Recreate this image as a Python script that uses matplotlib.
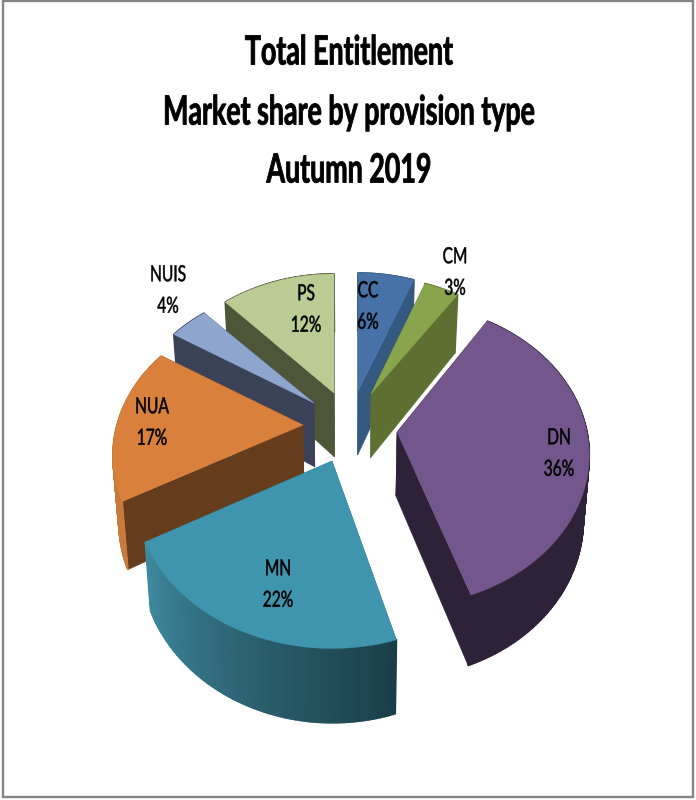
import numpy as np
import matplotlib
matplotlib.use('Agg')
import matplotlib.pyplot as plt
from matplotlib.colors import to_rgb
from matplotlib.patches import Rectangle
from matplotlib.patheffects import AbstractPathEffect
from matplotlib.transforms import Affine2D

# chart values
categories = ['CC', 'CM', 'DN', 'MN', 'NUA', 'NUIS', 'PS']
shares = [6, 3, 36, 22, 17, 4, 12]
title_lines = ['Total Entitlement', 'Market share by provision type', 'Autumn 2019']

# look of each slice
top_colors = ['#4672a8', '#88a44c', '#72568c', '#4095ae', '#d9813c', '#8ea5ce', '#bacb93']
cut_colors = ['#34587f', '#5d7032', '#2d2238', '#2a6172', '#653d1c', '#3b4257', '#4e563a']
# outer wall colour at the start and end angle of the slice
wall_colors = [('#34587f', '#34587f'), ('#5d7032', '#5d7032'), ('#2d2238', '#2d2238'),
               ('#1a3e48', '#3f8a9f'), ('#c87a3d', '#c87a3d'), ('#3b4257', '#3b4257'),
               ('#4e563a', '#4e563a')]

# where the tip of each exploded slice lands, in pixels
tips = [(358, 391), (371, 394), (397, 432), (332, 461), (303, 425), (314, 403), (334, 393)]
label_xy = [(368, 307), (455, 273), (559, 454), (278, 585), (152, 423), (168, 291), (306, 310)]

# per slice fit of the fake 3D: radius, tilt, perspective, nudges of the edges in degrees
radii = [180, 178, 190, 192, 186, 184, 182]
tilts = [0.785, 0.785, 0.78, 0.77, 0.77, 0.77, 0.785]
persps = [0.0011, 0.0011, 0.0008, 0.0011, 0.0011, 0.0011, 0.0011]
edge_nudge = [(0, 0), (-0.6, 2), (0, -1.5), (2.5, -0.6), (0, 0), (0, 0), (0, 0)]

DEPTH = 64
VANISH_X = 350
FONT = ['Lato', 'Liberation Sans']


class NarrowText(AbstractPathEffect):
    # the reference font is tall, condensed and heavy: squeeze glyphs about
    # their centre and give them a thin stroke
    def __init__(self, cx, sx, stroke):
        super().__init__()
        self.cx = cx
        self.sx = sx
        self.stroke = stroke

    def draw_path(self, renderer, gc, tpath, affine, rgbFace=None):
        squeeze = Affine2D().translate(-self.cx, 0).scale(self.sx, 1).translate(self.cx, 0)
        gc0 = renderer.new_gc()
        gc0.copy_properties(gc)
        gc0.set_linewidth(self.stroke)
        gc0.set_foreground('black')
        renderer.draw_path(gc0, tpath, affine + squeeze, rgbFace)
        gc0.restore()


def project(i, theta):
    # theta runs clockwise from 12 o'clock, in degrees
    t = np.radians(theta)
    X = radii[i] * np.sin(t)
    Y = radii[i] * np.cos(t)
    f = 1 / (1 + persps[i] * Y)
    x = tips[i][0] + X * f
    y = tips[i][1] - tilts[i] * Y * f
    xb = x + (VANISH_X - x) * 0.025
    yb = y + DEPTH * (1 + 0.6 * (f - 1))
    return x, y, xb, yb


def draw_slice(ax, i, start, end):
    tip = tips[i]
    bx, by = tip[0] + (VANISH_X - tip[0]) * 0.025, tip[1] + DEPTH

    # the two cut faces
    for theta in (start, end):
        x, y, xb, yb = project(i, theta)
        ax.fill([tip[0], x, xb, bx], [tip[1], y, yb, by], color=cut_colors[i], lw=0.3)

    # outer wall in thin strips so the shading can change along it
    angles = np.linspace(start, end, int((end - start) * 1.5) + 2)
    c0, c1 = np.array(to_rgb(wall_colors[i][0])), np.array(to_rgb(wall_colors[i][1]))
    for a0, a1 in zip(angles[:-1], angles[1:]):
        x0, y0, xb0, yb0 = project(i, a0)
        x1, y1, xb1, yb1 = project(i, a1)
        frac = (a0 - start) / (end - start)
        ax.fill([x0, x1, xb1, xb0], [y0, y1, yb1, yb0], color=c0 + (c1 - c0) * frac, lw=1.2)

    # top surface
    rim = [project(i, a)[:2] for a in np.linspace(start, end, 120)]
    ax.fill([tip[0]] + [p[0] for p in rim], [tip[1]] + [p[1] for p in rim],
            color=top_colors[i], lw=0.3)


def main():
    fig = plt.figure(figsize=(6.96, 8), dpi=100, facecolor='white')
    ax = fig.add_axes([0, 0, 1, 1])
    ax.set_xlim(0, 696)
    ax.set_ylim(800, 0)
    ax.axis('off')

    ax.add_patch(Rectangle((3, 1), 690, 796, fill=False, ec='#868686', lw=1.7))

    edges = np.concatenate([[0], np.cumsum(shares)]) / np.sum(shares) * 360

    # back slices first, so the nearer ones sit on top
    for i in sorted(range(len(shares)), key=lambda n: tips[n][1]):
        draw_slice(ax, i, edges[i] + edge_nudge[i][0], edges[i + 1] + edge_nudge[i][1])

    for name, share, (x, y) in zip(categories, shares, label_xy):
        ax.text(x, y, f'{name}\n{share}%', ha='center', va='center', family=FONT,
                fontsize=16, linespacing=1.72, color='black',
                path_effects=[NarrowText(x, 0.7, 0.35)])

    for line, y in zip(title_lines, [53, 113, 171]):
        ax.text(349, y, line, ha='center', va='center', family=FONT, fontsize=29,
                fontweight='bold', color='black', path_effects=[NarrowText(349, 0.665, 0.6)])

    fig.savefig('out.png', dpi=100)


if __name__ == '__main__':
    main()
